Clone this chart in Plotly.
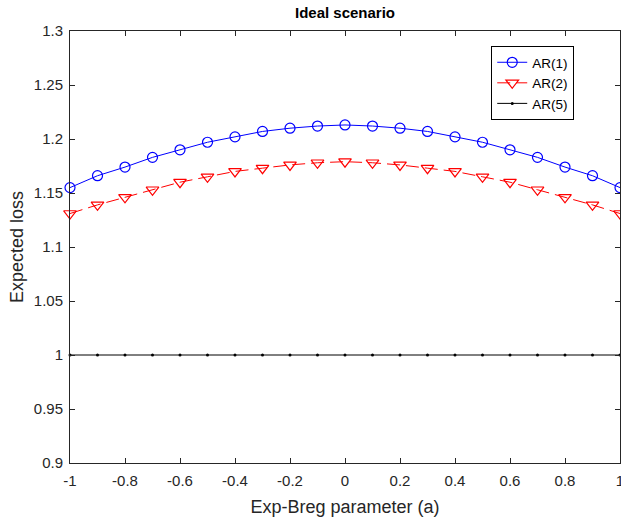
import plotly.graph_objects as go

a_vals = [-1.0, -0.9, -0.8, -0.7, -0.6, -0.5, -0.4, -0.3, -0.2, -0.1, 0.0,
          0.1, 0.2, 0.3, 0.4, 0.5, 0.6, 0.7, 0.8, 0.9, 1.0]
ar1 = [1.155, 1.166, 1.174, 1.183, 1.190, 1.197, 1.202, 1.207, 1.210, 1.212, 1.213,
       1.212, 1.210, 1.207, 1.202, 1.197, 1.190, 1.183, 1.174, 1.166, 1.155]
ar2 = [1.131, 1.139, 1.146, 1.153, 1.160, 1.165, 1.170, 1.173, 1.176, 1.178, 1.179,
       1.178, 1.176, 1.173, 1.170, 1.165, 1.160, 1.153, 1.146, 1.139, 1.131]
ar5 = [1.0] * 21

x_ticks = [-1, -0.8, -0.6, -0.4, -0.2, 0, 0.2, 0.4, 0.6, 0.8, 1]
x_tick_labels = ["-1", "-0.8", "-0.6", "-0.4", "-0.2", "0", "0.2", "0.4", "0.6", "0.8", "1"]
y_ticks = [0.9, 0.95, 1.0, 1.05, 1.1, 1.15, 1.2, 1.25, 1.3]
y_tick_labels = ["0.9", "0.95", "1", "1.05", "1.1", "1.15", "1.2", "1.25", "1.3"]

FONT = "Liberation Sans, Arial, Helvetica, sans-serif"
AX = "#262626"

fig = go.Figure()
fig.add_trace(go.Scatter(
    x=a_vals, y=ar1, name="AR(1)", mode="lines+markers",
    line=dict(color="#0000FF", width=1),
    marker=dict(symbol="circle-open", size=10, color="#0000FF", line=dict(width=1.2)),
    cliponaxis=False,
))
fig.add_trace(go.Scatter(
    x=a_vals, y=ar2, name="AR(2)", mode="lines+markers",
    line=dict(color="#FF0000", width=1, dash="13px,6px"),
    marker=dict(symbol="triangle-down-open", size=11, color="#FF0000", line=dict(width=1.2)),
    cliponaxis=False,
))
fig.add_trace(go.Scatter(
    x=a_vals, y=ar5, name="AR(5)", mode="lines+markers",
    line=dict(color="#000000", width=1),
    marker=dict(symbol="circle", size=3, color="#000000"),
    cliponaxis=False,
))

axis_common = dict(
    showgrid=False, zeroline=False, showline=True, linecolor=AX, linewidth=1,
    mirror="ticks", ticks="inside", ticklen=5, tickcolor=AX, automargin=False,
    ticklabeloverflow="allow",
    tickfont=dict(family=FONT, size=15, color=AX),
)

fig.update_layout(
    width=621, height=517,
    margin=dict(l=70, r=1, t=31, b=54),
    paper_bgcolor="white", plot_bgcolor="white",
    title=dict(text="<b>Ideal scenario</b>", x=0.5, xanchor="center", xref="paper",
               y=1 - 13 / 517, yanchor="middle",
               font=dict(family=FONT, size=15, color="#000000")),
    xaxis=dict(range=[-1, 1], tickvals=x_ticks, ticktext=x_tick_labels,
               ticklabelstandoff=4,
               title=dict(text="Exp-Breg parameter (a)", font=dict(family=FONT, size=18, color=AX),
                          standoff=12),
               **axis_common),
    yaxis=dict(range=[0.9, 1.3], tickvals=y_ticks, ticktext=y_tick_labels,
               ticklabelstandoff=3,
               title=dict(text="Expected loss", font=dict(family=FONT, size=18, color=AX),
                          standoff=5),
               **axis_common),
    legend=dict(x=(492 - 70) / 551, y=(463 - 46) / 432, xanchor="left", yanchor="top",
                bgcolor="white", bordercolor="#000000", borderwidth=1,
                font=dict(family=FONT, size=13.5, color="#000000"),
                tracegroupgap=0, itemwidth=30),
    showlegend=True,
)

fig.write_html("out.html",
               config={"displayModeBar": False},
               post_script="document.body.style.margin='0px';document.body.style.overflow='hidden';")
